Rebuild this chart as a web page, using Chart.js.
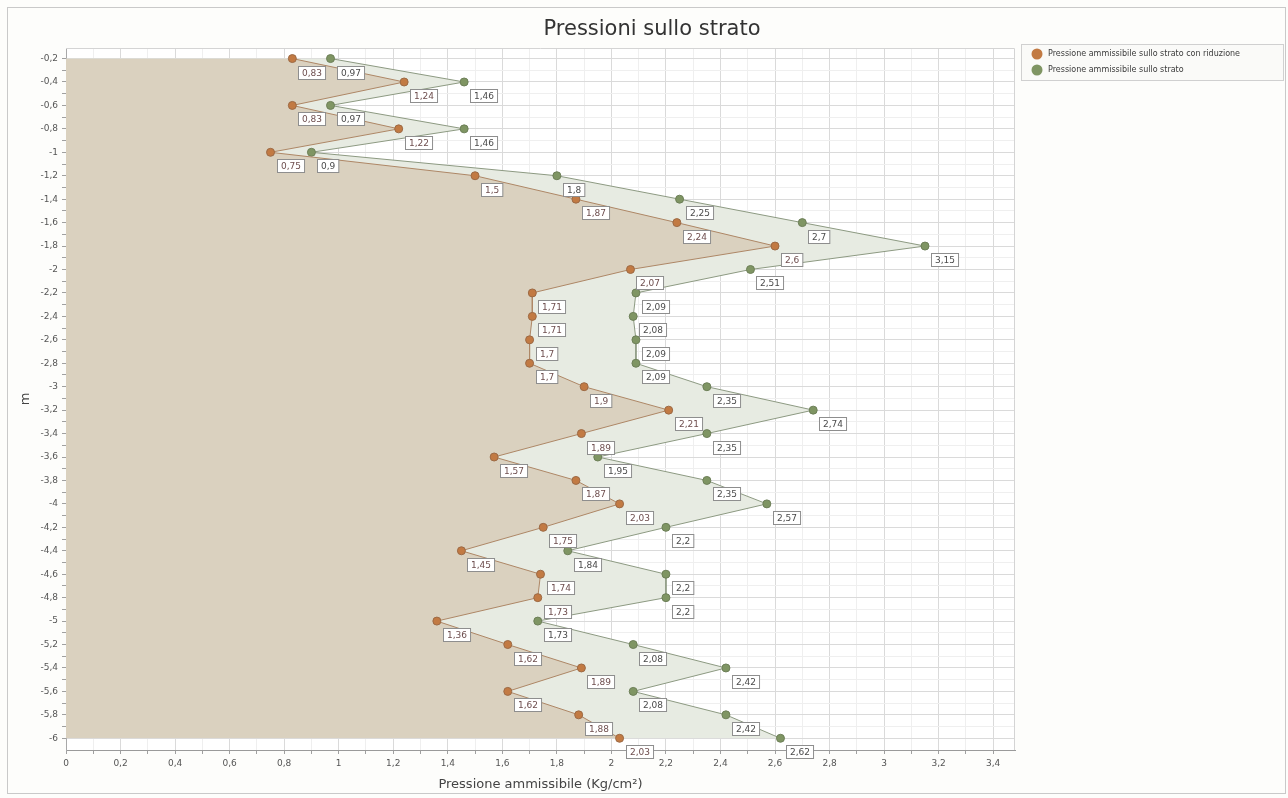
<!DOCTYPE html>
<html>
<head>
<meta charset="utf-8">
<title>Pressioni sullo strato</title>
<script src="https://cdn.jsdelivr.net/npm/chart.js@4/dist/chart.umd.min.js"></script>
<style>
  html, body { margin: 0; padding: 0; background: #ffffff; }
  #wrap { width: 1288px; height: 798px; }
</style>
</head>
<body>
<div id="wrap"><canvas id="myChart" width="1288" height="798"></canvas></div>
<script>
// profondita' (m)
var depths = [-0.2, -0.4, -0.6, -0.8, -1, -1.2, -1.4, -1.6, -1.8, -2,
              -2.2, -2.4, -2.6, -2.8, -3, -3.2, -3.4, -3.6, -3.8, -4,
              -4.2, -4.4, -4.6, -4.8, -5, -5.2, -5.4, -5.6, -5.8, -6];

// Pressione ammissibile sullo strato con riduzione
var pressRidotta = [0.83, 1.24, 0.83, 1.22, 0.75, 1.5, 1.87, 2.24, 2.6, 2.07,
                    1.71, 1.71, 1.7, 1.7, 1.9, 2.21, 1.89, 1.57, 1.87, 2.03,
                    1.75, 1.45, 1.74, 1.73, 1.36, 1.62, 1.89, 1.62, 1.88, 2.03];

// Pressione ammissibile sullo strato
var pressStrato = [0.97, 1.46, 0.97, 1.46, 0.9, 1.8, 2.25, 2.7, 3.15, 2.51,
                   2.09, 2.08, 2.09, 2.09, 2.35, 2.74, 2.35, 1.95, 2.35, 2.57,
                   2.2, 1.84, 2.2, 2.2, 1.73, 2.08, 2.42, 2.08, 2.42, 2.62];

var seriesNames = ['Pressione ammissibile sullo strato con riduzione', 'Pressione ammissibile sullo strato'];
var chartTitle = 'Pressioni sullo strato';

function toPoints(values) {
    return values.map(function(v, i) { return { x: v, y: depths[i] }; });
}

function fmt(v) {
    return String(+v.toFixed(2)).replace('.', ',');
}

function isMajor(v) {
    return Math.abs(Math.round(v * 10)) % 2 === 0;
}

var colors = {
    orangePoint: '#c27a43', orangeBorder: '#9c6a45', orangeLine: '#ae8766', orangeFill: '#dad1bf',
    greenPoint: '#7f9563', greenBorder: '#6d7f58', greenLine: '#8d9a82', greenFill: '#e7ebe2'
};

// sfondo, cornice, titolo e legenda
var framePlugin = {
    id: 'frame',
    beforeDraw: function(chart) {
        var c = chart.ctx, a = chart.chartArea;
        c.save();
        c.fillStyle = '#fdfdfb';
        c.fillRect(0, 0, chart.width, chart.height);
        c.strokeStyle = '#c9c9c9';
        c.lineWidth = 1;
        c.strokeRect(7.5, 7.5, 1278, 786);
        c.fillStyle = '#ffffff';
        c.fillRect(a.left, a.top, a.right - a.left, a.bottom - a.top);
        c.restore();
    },
    afterDraw: function(chart) {
        var c = chart.ctx, a = chart.chartArea;
        c.save();
        c.strokeStyle = '#d4d4d4';
        c.lineWidth = 1;
        c.beginPath();
        c.moveTo(a.left, a.top + 0.5);
        c.lineTo(a.right - 0.5, a.top + 0.5);
        c.lineTo(a.right - 0.5, a.bottom);
        c.stroke();

        // titolo
        c.fillStyle = '#333333';
        c.font = '21px "DejaVu Sans"';
        c.textAlign = 'center';
        c.textBaseline = 'middle';
        c.fillText(chartTitle, 652, 30);

        // legenda
        c.textAlign = 'left';
        c.fillStyle = '#fafaf8';
        c.fillRect(1021.5, 44.5, 262, 36);
        c.strokeStyle = '#d0d0d0';
        c.strokeRect(1021.5, 44.5, 262, 36);
        var marks = [colors.orangePoint, colors.greenPoint];
        c.font = '8px "DejaVu Sans"';
        seriesNames.forEach(function(name, i) {
            var y = 54 + i * 16;
            c.beginPath();
            c.arc(1037, y, 5.5, 0, Math.PI * 2);
            c.fillStyle = marks[i];
            c.fill();
            c.fillStyle = '#3a3a3a';
            c.fillText(name, 1048, y);
        });
        c.restore();
    }
};

// etichette dei valori
var valueLabels = {
    id: 'valueLabels',
    afterDatasetsDraw: function(chart) {
        var c = chart.ctx;
        c.save();
        c.font = '9px "DejaVu Sans"';
        c.textBaseline = 'middle';
        c.textAlign = 'left';
        chart.data.datasets.forEach(function(ds, di) {
            var meta = chart.getDatasetMeta(di);
            meta.data.forEach(function(pt, i) {
                var txt = fmt(ds.data[i].x);
                var w = c.measureText(txt).width + 7;
                var bx = Math.round(pt.x + 6) + 0.5, by = Math.round(pt.y + 7) + 0.5;
                c.fillStyle = '#ffffff';
                c.fillRect(bx, by, w, 13);
                c.strokeStyle = '#8e8e8e';
                c.lineWidth = 1;
                c.strokeRect(bx, by, w, 13);
                c.fillStyle = di === 0 ? '#6e4e4e' : '#4a4a4a';
                c.fillText(txt, bx + 3.5, by + 7);
            });
        });
        c.restore();
    }
};

document.addEventListener('DOMContentLoaded', function() {
    var ctx = document.getElementById('myChart').getContext('2d');
    var myChart = new Chart(ctx, {
        type: 'line',
        data: {
            datasets: [{
                label: seriesNames[0],
                data: toPoints(pressRidotta),
                borderColor: colors.orangeLine,
                backgroundColor: colors.orangeFill,
                borderWidth: 1,
                pointBackgroundColor: colors.orangePoint,
                pointBorderColor: colors.orangeBorder,
                pointBorderWidth: 1,
                pointRadius: 4,
                tension: 0,
                fill: 'origin'
            }, {
                label: seriesNames[1],
                data: toPoints(pressStrato),
                borderColor: colors.greenLine,
                backgroundColor: colors.greenFill,
                borderWidth: 1,
                pointBackgroundColor: colors.greenPoint,
                pointBorderColor: colors.greenBorder,
                pointBorderWidth: 1,
                pointRadius: 4,
                tension: 0,
                fill: 'origin'
            }]
        },
        options: {
            responsive: false,
            animation: false,
            indexAxis: 'y',
            layout: { padding: { left: 10, right: 273, top: 48, bottom: 6 } },
            plugins: {
                legend: { display: false },
                tooltip: { enabled: false },
                title: { display: false }
            },
            scales: {
                x: {
                    type: 'linear',
                    position: 'bottom',
                    min: 0,
                    max: 3.48,
                    afterFit: function(s) { s.height = 42; },
                    ticks: {
                        stepSize: 0.1,
                        includeBounds: false,
                        autoSkip: false,
                        maxRotation: 0,
                        color: '#555555',
                        font: { family: '"DejaVu Sans"', size: 9 },
                        padding: 4,
                        callback: function(v) { return isMajor(v) ? fmt(v) : ''; }
                    },
                    grid: {
                        color: function(c) { return c.tick && isMajor(c.tick.value) ? '#dadada' : '#efefef'; },
                        tickColor: '#a0a0a0',
                        tickLength: 4
                    },
                    border: { color: '#9a9a9a' },
                    title: {
                        display: true,
                        text: 'Pressione ammissibile (Kg/cm²)',
                        color: '#444444',
                        font: { family: '"DejaVu Sans"', size: 13 },
                        padding: { top: 2, bottom: 0 }
                    }
                },
                y: {
                    type: 'linear',
                    min: -6.1,
                    max: -0.11,
                    afterFit: function(s) { s.width = 56; },
                    ticks: {
                        stepSize: 0.1,
                        includeBounds: false,
                        autoSkip: false,
                        color: '#555555',
                        font: { family: '"DejaVu Sans"', size: 9 },
                        padding: 4,
                        callback: function(v) { return isMajor(v) ? fmt(v) : ''; }
                    },
                    grid: {
                        color: function(c) { return c.tick && isMajor(c.tick.value) ? '#dadada' : '#efefef'; },
                        tickColor: '#a0a0a0',
                        tickLength: 4
                    },
                    border: { color: '#a8a8a8' },
                    title: {
                        display: true,
                        text: 'm',
                        color: '#444444',
                        font: { family: '"DejaVu Sans"', size: 13 },
                        padding: { top: 8, bottom: 0 }
                    }
                }
            }
        },
        plugins: [framePlugin, valueLabels]
    });
});
</script>
</body>
</html>
